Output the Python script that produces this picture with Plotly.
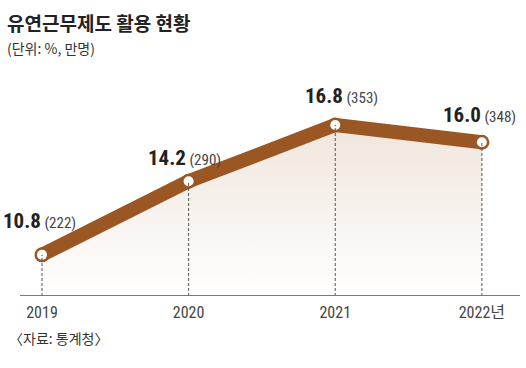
import plotly.graph_objects as go

years = [2019, 2020, 2021, 2022]
tick_labels = ["2019", "2020", "2021", "2022년"]
rate = [10.8, 14.2, 16.8, 16.0]
people = [222, 290, 353, 348]

y_min, y_max = 8.9, 19.8
x_min, x_max = 2018.85, 2022.26
LINE = "#9a5723"
FONT = "Noto Sans CJK KR"
NUMFONT = "Liberation Sans Narrow, Roboto Condensed, DejaVu Sans Condensed, Roboto, Noto Sans CJK KR"

fig = go.Figure()

# gradient fill under line
fig.add_trace(go.Scatter(x=years, y=[y_min] * len(years), mode="lines",
                         line=dict(width=0), hoverinfo="skip", showlegend=False))
fig.add_trace(go.Scatter(x=years, y=rate, mode="lines", fill="tonexty",
                         line=dict(width=0), hoverinfo="skip", showlegend=False,
                         fillgradient=dict(type="vertical",
                                           colorscale=[[0, "rgba(255,255,255,1)"],
                                                       [1, "#f0e5dc"]])))

# dashed drop lines
for x, y in zip(years, rate):
    fig.add_shape(type="line", x0=x, x1=x, y0=y_min, y1=y,
                  line=dict(color="#555555", width=1, dash="3px,2px"), layer="above")

fig.add_trace(go.Scatter(x=years, y=rate, mode="lines+markers",
                         line=dict(color=LINE, width=14),
                         marker=dict(size=15, color=LINE),
                         showlegend=False, hoverinfo="skip"))
fig.add_trace(go.Scatter(x=years, y=rate, mode="markers",
                         marker=dict(size=10, color="white", line=dict(width=0)),
                         showlegend=False, hoverinfo="skip"))

# value labels
offsets = [(-2, 34), (-4, 23), (6, 29), (-2, 27)]
for (x, r, p), (dx, dy) in zip(zip(years, rate, people), offsets):
    fig.add_annotation(x=x, y=r, xshift=dx, yshift=dy, showarrow=False,
                       text=f"<b>{r:.1f}</b><span style='font-size:15px;color:#444'> ({p})</span>",
                       font=dict(family=NUMFONT, size=21, color="#222222"))

# baseline
fig.add_shape(type="line", xref="paper", x0=0, x1=1, y0=y_min, y1=y_min,
              line=dict(color="#7a7a7a", width=2), layer="above")

# title, subtitle, source
fig.add_annotation(xref="paper", yref="paper", x=-0.03, y=1 + 38 / 236, xanchor="left",
                   yanchor="middle", showarrow=False, text="<b>유연근무제도 활용 현황</b>",
                   font=dict(family=FONT, size=19, color="#222222"))
fig.add_annotation(xref="paper", yref="paper", x=-0.03, y=1 + 12 / 236, xanchor="left",
                   yanchor="middle", showarrow=False, text="(단위: %, 만명)",
                   font=dict(family=FONT, size=14, color="#333333"))
fig.add_annotation(xref="paper", yref="paper", x=-0.026, y=-42 / 236, xanchor="left",
                   yanchor="middle", showarrow=False, text="〈자료: 통계청〉",
                   font=dict(family=FONT, size=14, color="#333333"))

fig.update_layout(
    width=526, height=368,
    margin=dict(l=20, r=6, t=60, b=72),
    paper_bgcolor="white", plot_bgcolor="white",
    xaxis=dict(range=[x_min, x_max], tickvals=years, ticktext=tick_labels,
               showgrid=False, zeroline=False, showline=False, ticks="",
               automargin=False, ticklabelstandoff=5,
               tickfont=dict(family=NUMFONT, size=16, color="#444444")),
    yaxis=dict(range=[y_min, y_max], visible=False, showgrid=False, automargin=False),
)

fig.write_html("out.html", config={"displayModeBar": False},
               post_script="document.body.style.margin='0';")
